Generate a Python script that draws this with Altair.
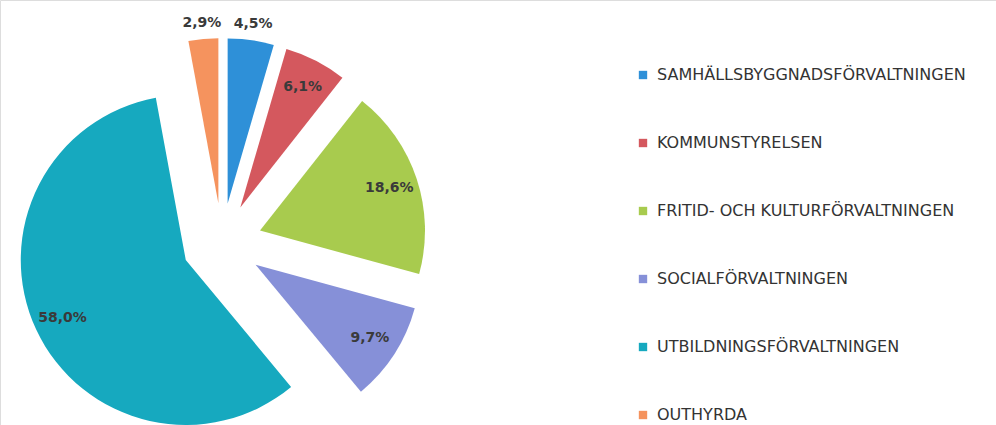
import altair as alt
import pandas as pd

categories = [
    "SAMHÄLLSBYGGNADSFÖRVALTNINGEN",
    "KOMMUNSTYRELSEN",
    "FRITID- OCH KULTURFÖRVALTNINGEN",
    "SOCIALFÖRVALTNINGEN",
    "UTBILDNINGSFÖRVALTNINGEN",
    "OUTHYRDA",
]
values = [4.5, 6.1, 18.6, 9.7, 58.0, 2.9]
colors = ["#2E90D8", "#D4585E", "#A8CB4E", "#8690D8", "#16A9BF", "#F5935E"]

df = pd.DataFrame({"category": categories, "value": values, "order": list(range(len(values)))})

CX, CY = 222, 243   # pie centre (px)
D = 40              # explode distance
R = 165             # radius

base = (
    alt.Chart(df)
    .transform_window(cum="sum(value)", sort=[alt.SortField("order")])
    .transform_joinaggregate(total="sum(value)")
    .transform_calculate(
        start="(datum.cum - datum.value) / datum.total * 2 * PI",
        end="datum.cum / datum.total * 2 * PI",
    )
    .transform_calculate(mid="(datum.start + datum.end) / 2")
    .transform_calculate(
        cx=f"{CX} + {D} * sin(datum.mid)",
        cy=f"{CY} - {D} * cos(datum.mid)",
        lr="datum.value < 5 ? 181 : 136",
        lab="replace(format(datum.value, '.1f'), '.', ',') + '%'",
    )
    .transform_calculate(
        tx="datum.cx + datum.lr * sin(datum.mid)",
        ty="datum.cy - datum.lr * cos(datum.mid)",
    )
)

arcs = base.mark_arc(radius=R).encode(
    theta=alt.Theta("start:Q", scale=None),
    theta2=alt.Theta2("end:Q"),
    x=alt.X("cx:Q", scale=None, axis=None),
    y=alt.Y("cy:Q", scale=None, axis=None),
    color=alt.Color(
        "category:N",
        sort=categories,
        scale=alt.Scale(domain=categories, range=colors),
        legend=alt.Legend(
            title=None,
            orient="none",
            legendX=635,
            legendY=67,
            symbolType="square",
            symbolSize=70,
            symbolStrokeWidth=0,
            labelFont="DejaVu Sans",
            labelFontSize=16,
            labelColor="#333333",
            labelOffset=6,
            labelLimit=400,
            rowPadding=52,
        ),
    ),
)

labels = base.mark_text(
    font="DejaVu Sans", fontSize=14, fontWeight="bold", color="#3a3a3a"
).encode(
    x=alt.X("tx:Q", scale=None, axis=None),
    y=alt.Y("ty:Q", scale=None, axis=None),
    text="lab:N",
)

chart = (
    alt.layer(arcs, labels)
    .properties(width=996, height=425, padding=0, autosize=alt.AutoSizeParams(type="none"))
    .configure_view(stroke=None)
    .configure(background="white")
)

chart.save("out.html", embed_options={"renderer": "svg", "actions": False})
